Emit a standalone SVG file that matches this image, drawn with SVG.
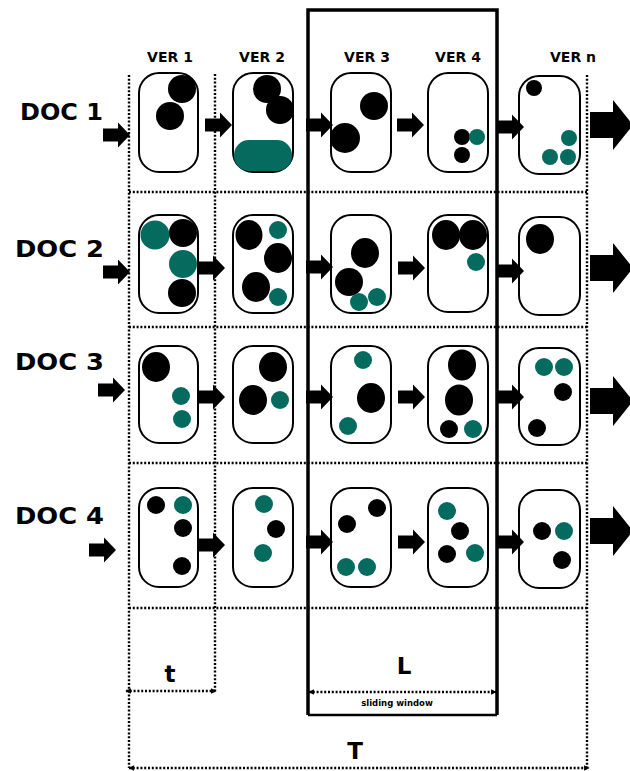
<svg xmlns="http://www.w3.org/2000/svg" width="630" height="771" viewBox="0 0 630 771">
<style>
.box{fill:#fff;stroke:#000;stroke-width:2}
.k{fill:#000}
.g{fill:#046b5e}
.dot{fill:none;stroke:#000;stroke-width:2.4;stroke-dasharray:2 1.8}
.doc{font-family:"DejaVu Sans",sans-serif;font-weight:bold;font-size:23px;fill:#000}
.ver{font-family:"DejaVu Sans",sans-serif;font-weight:bold;font-size:14px;fill:#000;text-anchor:middle}
.dim{font-family:"DejaVu Sans",sans-serif;font-weight:bold;font-size:23px;fill:#000;text-anchor:middle}
.sm{font-family:"DejaVu Sans",sans-serif;font-weight:bold;font-size:8.5px;fill:#000;text-anchor:middle}
</style>
<defs>
<path id="sa" d="M0,-6.5 H15 V-12.5 L27,0 L15,12.5 V6.5 H0 Z" fill="#000"/>
<path id="ba" d="M0,-13 H23 V-25 L43,0 L23,25 V13 H0 Z" fill="#000"/>
<marker id="ah" viewBox="0 0 10 10" refX="9" refY="5" markerWidth="5.5" markerHeight="5.5" orient="auto-start-reverse" markerUnits="userSpaceOnUse">
<path d="M0,0 L10,5 L0,10 Z" fill="#000"/>
</marker>
</defs>

<g id="grid">
<line class="dot" x1="129" y1="192" x2="587" y2="192"/>
<line class="dot" x1="129" y1="327" x2="587" y2="327"/>
<line class="dot" x1="129" y1="463" x2="587" y2="463"/>
<line class="dot" x1="129" y1="608" x2="587" y2="608"/>
<line class="dot" x1="129" y1="75" x2="129" y2="768"/>
<line class="dot" x1="215" y1="74" x2="215" y2="691"/>
<line class="dot" x1="587" y1="75" x2="587" y2="768"/>
</g>

<g id="window">
<path d="M308,715 V10 H497 V715" fill="none" stroke="#000" stroke-width="3.5"/>
<line x1="308" y1="715" x2="497" y2="715" stroke="#000" stroke-width="2.5"/>
</g>

<g id="labels">
<text class="ver" x="170" y="62">VER 1</text>
<text class="ver" x="262" y="62">VER 2</text>
<text class="ver" x="367" y="62">VER 3</text>
<text class="ver" x="458" y="62">VER 4</text>
<text class="ver" x="573" y="62">VER n</text>
<text class="doc" x="20" y="120" textLength="83" lengthAdjust="spacingAndGlyphs">DOC 1</text>
<text class="doc" x="15" y="257" textLength="89" lengthAdjust="spacingAndGlyphs">DOC 2</text>
<text class="doc" x="15" y="370" textLength="89" lengthAdjust="spacingAndGlyphs">DOC 3</text>
<text class="doc" x="15" y="524" textLength="89" lengthAdjust="spacingAndGlyphs">DOC 4</text>
</g>

<g id="row1">
<g id="d1v1"><rect class="box" x="139" y="73" width="59" height="99" rx="20"/>
<circle class="k" cx="182" cy="89" r="14"/><circle class="k" cx="170" cy="116" r="14"/></g>
<g id="d1v2"><rect class="box" x="233" y="73" width="60" height="99" rx="20"/>
<circle class="k" cx="267" cy="89" r="14"/><circle class="k" cx="280" cy="110" r="14"/>
<rect class="g" x="234" y="140" width="58" height="31" rx="15"/></g>
<g id="d1v3"><rect class="box" x="331" y="73" width="60" height="99" rx="20"/>
<circle class="k" cx="374" cy="106" r="14"/><circle class="k" cx="345" cy="138" r="15"/></g>
<g id="d1v4"><rect class="box" x="428" y="73" width="60" height="99" rx="20"/>
<circle class="k" cx="462" cy="137" r="8"/><circle class="g" cx="477" cy="137" r="8"/><circle class="k" cx="462" cy="155" r="8"/></g>
<g id="d1vn"><rect class="box" x="519" y="76" width="61" height="98" rx="20"/>
<circle class="k" cx="534" cy="88" r="8"/><circle class="g" cx="569" cy="138" r="8"/><circle class="g" cx="550" cy="157" r="8"/><circle class="g" cx="568" cy="157" r="8"/></g>
</g>

<g id="row2">
<g id="d2v1"><rect class="box" x="139" y="215" width="59" height="98" rx="20"/>
<circle class="g" cx="155" cy="235" r="14.5"/><circle class="k" cx="183" cy="233" r="14"/><circle class="g" cx="183" cy="264" r="14"/><circle class="k" cx="182" cy="293" r="14"/></g>
<g id="d2v2"><rect class="box" x="233" y="215" width="60" height="98" rx="20"/>
<ellipse class="k" cx="249" cy="235" rx="13.5" ry="15"/><circle class="g" cx="278" cy="230" r="9"/><ellipse class="k" cx="278" cy="258" rx="14" ry="15"/><ellipse class="k" cx="256" cy="287" rx="14" ry="15"/><circle class="g" cx="278" cy="297" r="9"/></g>
<g id="d2v3"><rect class="box" x="331" y="215" width="60" height="98" rx="20"/>
<ellipse class="k" cx="365" cy="253" rx="14" ry="15"/><circle class="k" cx="349" cy="282" r="14"/><circle class="g" cx="359" cy="302" r="9"/><circle class="g" cx="377" cy="297" r="9"/></g>
<g id="d2v4"><rect class="box" x="428" y="215" width="60" height="97" rx="20"/>
<ellipse class="k" cx="446" cy="235" rx="14" ry="15"/><ellipse class="k" cx="473" cy="235" rx="14" ry="15"/><circle class="g" cx="476" cy="262" r="9"/></g>
<g id="d2vn"><rect class="box" x="519" y="217" width="61" height="98" rx="20"/>
<ellipse class="k" cx="540" cy="239" rx="14" ry="15"/></g>
</g>

<g id="row3">
<g id="d3v1"><rect class="box" x="139" y="346" width="59" height="97" rx="20"/>
<ellipse class="k" cx="156" cy="367" rx="14" ry="15"/><circle class="g" cx="181" cy="396" r="9"/><circle class="g" cx="182" cy="419" r="9"/></g>
<g id="d3v2"><rect class="box" x="233" y="346" width="60" height="97" rx="20"/>
<ellipse class="k" cx="273" cy="367" rx="14" ry="15"/><ellipse class="k" cx="253" cy="400" rx="14" ry="15"/><circle class="g" cx="280" cy="400" r="9"/></g>
<g id="d3v3"><rect class="box" x="331" y="346" width="60" height="97" rx="20"/>
<circle class="g" cx="363" cy="360" r="9"/><ellipse class="k" cx="371" cy="398" rx="14" ry="15"/><circle class="g" cx="348" cy="426" r="9"/></g>
<g id="d3v4"><rect class="box" x="428" y="346" width="60" height="97" rx="20"/>
<ellipse class="k" cx="462" cy="365" rx="14" ry="15.5"/><ellipse class="k" cx="459" cy="400" rx="14" ry="15.5"/><circle class="k" cx="449" cy="429" r="9"/><circle class="g" cx="473" cy="429" r="9"/></g>
<g id="d3vn"><rect class="box" x="519" y="348" width="61" height="97" rx="20"/>
<circle class="g" cx="544" cy="367" r="9"/><circle class="g" cx="564" cy="367" r="9"/><circle class="k" cx="563" cy="392" r="9"/><circle class="k" cx="537" cy="428" r="9"/></g>
</g>

<g id="row4">
<g id="d4v1"><rect class="box" x="139" y="488" width="59" height="99" rx="20"/>
<circle class="k" cx="156" cy="505" r="9"/><circle class="g" cx="183" cy="505" r="9"/><circle class="k" cx="183" cy="528" r="9"/><circle class="k" cx="182" cy="566" r="9"/></g>
<g id="d4v2"><rect class="box" x="233" y="488" width="60" height="99" rx="20"/>
<circle class="g" cx="264" cy="504" r="9"/><circle class="k" cx="276" cy="529" r="9"/><circle class="g" cx="263" cy="553" r="9"/></g>
<g id="d4v3"><rect class="box" x="331" y="488" width="60" height="99" rx="20"/>
<circle class="k" cx="377" cy="508" r="9"/><circle class="k" cx="347" cy="524" r="9"/><circle class="g" cx="346" cy="567" r="9"/><circle class="g" cx="367" cy="567" r="9"/></g>
<g id="d4v4"><rect class="box" x="428" y="488" width="60" height="99" rx="20"/>
<circle class="g" cx="447" cy="511" r="9"/><circle class="k" cx="460" cy="531" r="9"/><circle class="k" cx="447" cy="554" r="9"/><circle class="g" cx="475" cy="553" r="9"/></g>
<g id="d4vn"><rect class="box" x="519" y="490" width="61" height="98" rx="20"/>
<circle class="k" cx="542" cy="531" r="9"/><circle class="g" cx="564" cy="531" r="9"/><circle class="k" cx="562" cy="560" r="9"/></g>
</g>

<g id="connectors">
<use href="#sa" x="103" y="135"/>
<use href="#sa" x="205" y="125"/>
<use href="#sa" x="306" y="125"/>
<use href="#sa" x="397" y="125"/>
<use href="#sa" x="497" y="127"/>
<use href="#ba" x="590" y="125"/>

<use href="#sa" x="103" y="272"/>
<use href="#sa" x="198" y="268"/>
<use href="#sa" x="306" y="267"/>
<use href="#sa" x="398" y="268"/>
<use href="#sa" x="497" y="271"/>
<use href="#ba" x="590" y="268"/>

<use href="#sa" x="98" y="390"/>
<use href="#sa" x="198" y="397"/>
<use href="#sa" x="306" y="397"/>
<use href="#sa" x="398" y="397"/>
<use href="#sa" x="497" y="397"/>
<use href="#ba" x="590" y="401"/>

<use href="#sa" x="89" y="550"/>
<use href="#sa" x="198" y="545"/>
<use href="#sa" x="306" y="542"/>
<use href="#sa" x="398" y="542"/>
<use href="#sa" x="497" y="542"/>
<use href="#ba" x="590" y="531"/>

<line class="dot" x1="126" y1="691" x2="216" y2="691" marker-start="url(#ah)" marker-end="url(#ah)"/>
<line class="dot" x1="309" y1="692" x2="496" y2="692" marker-start="url(#ah)" marker-end="url(#ah)"/>
<line class="dot" x1="129" y1="768" x2="589" y2="768" marker-start="url(#ah)" marker-end="url(#ah)"/>
</g>

<g id="dims">
<text class="dim" x="170" y="682">t</text>
<text class="dim" x="404" y="674">L</text>
<text class="sm" x="397" y="706">sliding window</text>
<text class="dim" x="355" y="759">T</text>
</g>
</svg>
